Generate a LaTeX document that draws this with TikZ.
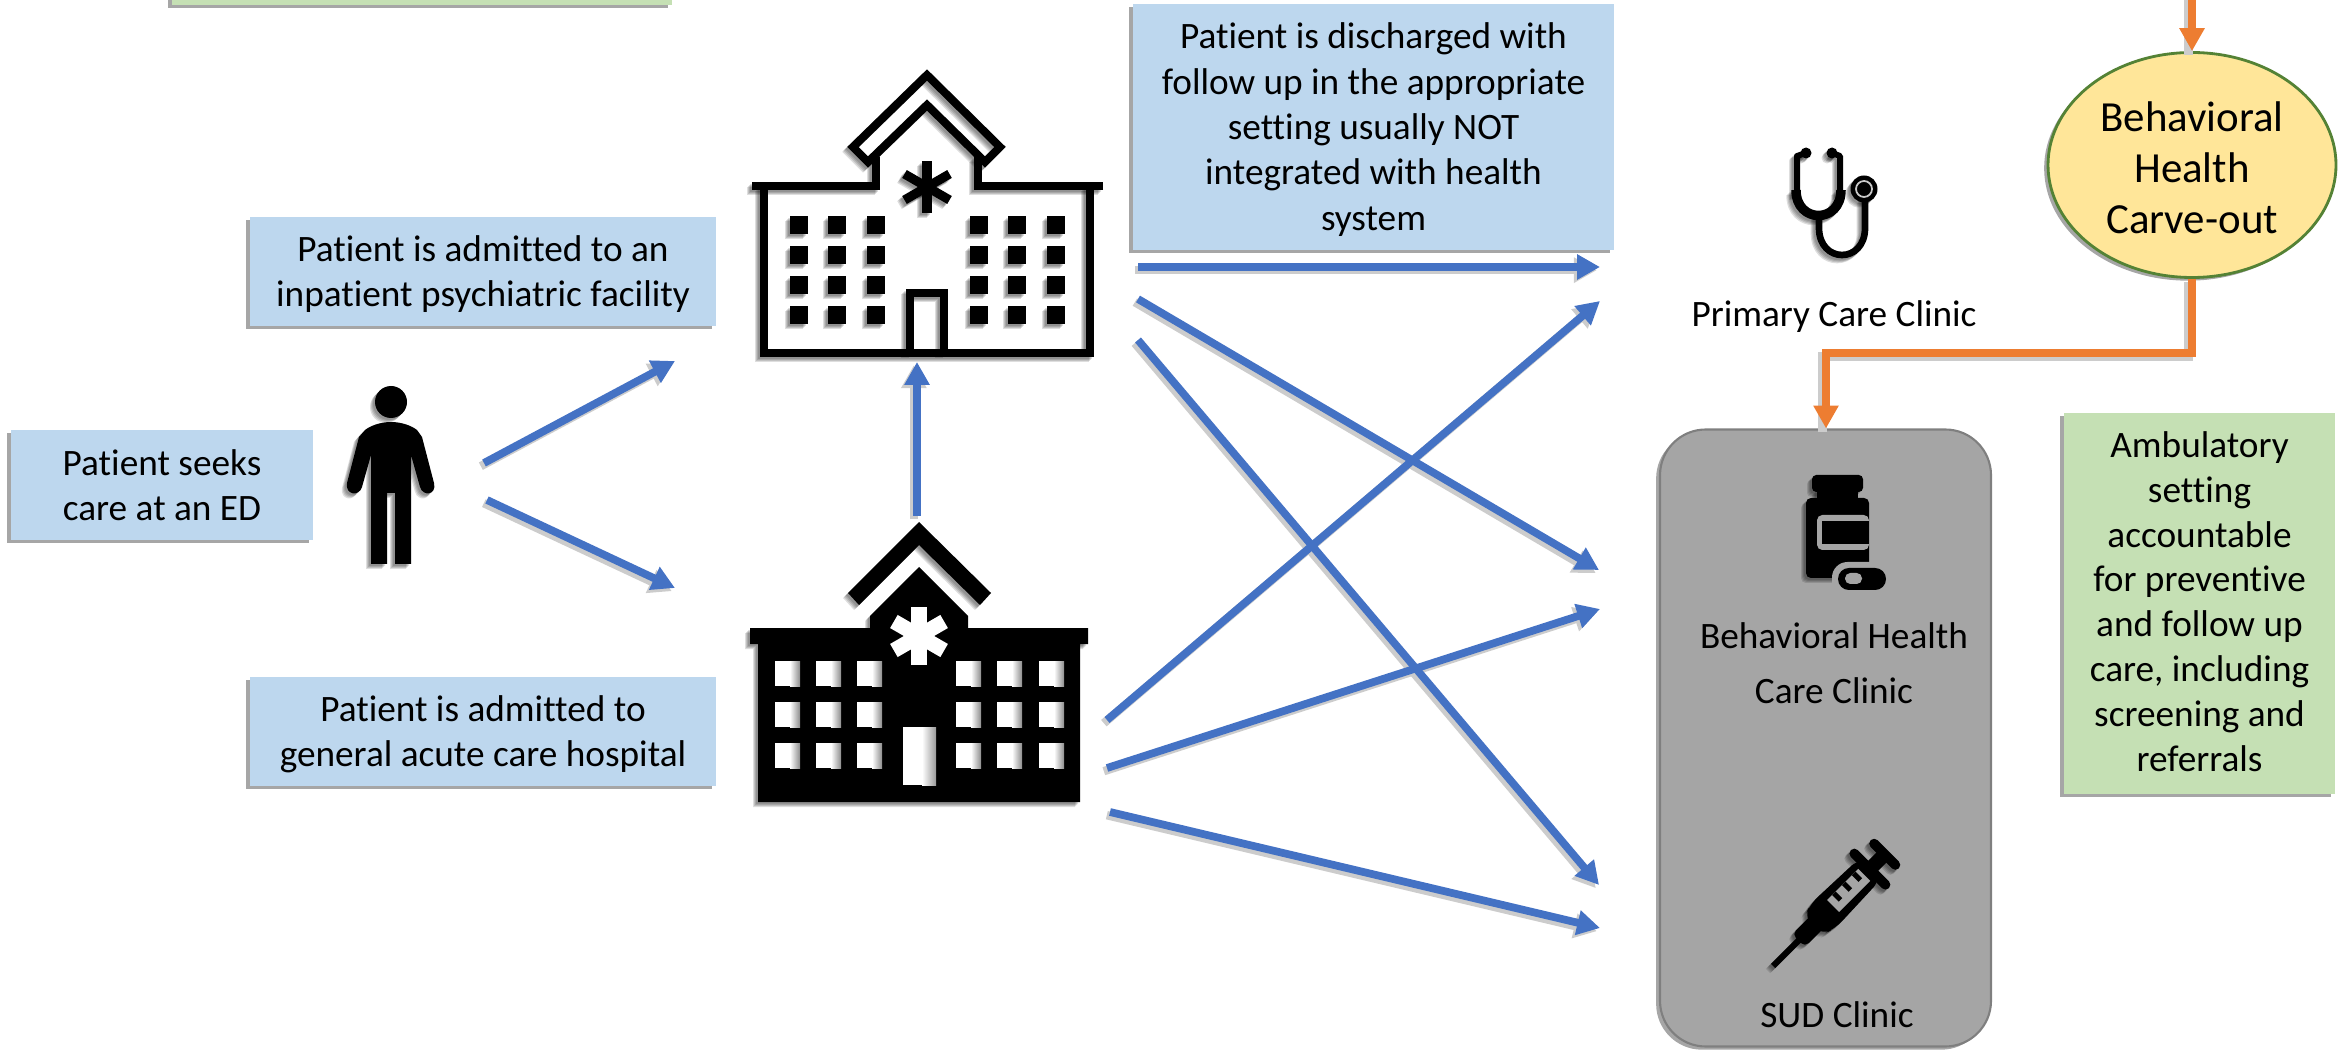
\documentclass[tikz,border=0pt]{standalone}
\usepackage{fontspec}
\setmainfont{Carlito}[Ligatures=CommonOff]
\usepackage{xcolor}
\usetikzlibrary{arrows.meta, positioning, shapes.geometric, shadows}
\definecolor{boxblue}{HTML}{BDD7EE}
\definecolor{boxgreen}{HTML}{C5E0B4}
\definecolor{carveyellow}{HTML}{FFE699}
\definecolor{carveline}{HTML}{548235}
\definecolor{linkorange}{HTML}{ED7D31}
\definecolor{linkblue}{HTML}{4472C4}
\definecolor{clinicgray}{HTML}{A5A5A5}
\definecolor{clinicline}{HTML}{7F7F7F}
\newcommand{\lowertext}{\rule{0pt}{8.8pt}}
\tikzset{%
	softshadow/.style={
		drop shadow={shadow xshift=-1.1pt, shadow yshift=-0.9pt, opacity=0.35, fill=black}
	},
	note/.style={
		inner sep=0pt,
		align=center,
		font=\fontsize{10.6}{12.9}\selectfont,
		softshadow
	},
	bluenote/.style={note, fill=boxblue},
	greennote/.style={note, fill=boxgreen, font=\fontsize{10.6}{12.75}\selectfont},
	clinictext/.style={
		inner sep=0pt,
		align=center,
		font=\fontsize{10.6}{15.6}\selectfont
	},
	bluelink/.style={
		draw=linkblue,
		line width=2.2pt,
		-{Triangle[length=6.5pt, width=6.8pt]}
	},
	bluelinkshade/.style={
		draw=black!20,
		line width=2.4pt,
		-{Triangle[length=6.5pt, width=6.8pt]},
		transform canvas={xshift=-0.9pt, yshift=-0.9pt}
	},
	orangelink/.style={
		draw=linkorange,
		line width=2.2pt
	},
	orangeshade/.style={
		draw=black!20,
		line width=2.4pt,
		transform canvas={xshift=-1pt, yshift=-1pt}
	},
	person/.pic={
		\fill (391,402) circle (16);
		\fill (391,422) .. controls (402,422) and (412,426) .. (417,430) -- (422,437) -- (434,483)
			.. controls (437,495) and (423,497) .. (420,487) -- (411,455) -- (411,564) -- (395,564)
			-- (395,493) -- (387,493) -- (387,564) -- (371,564) -- (371,455) -- (362,487)
			.. controls (359,497) and (345,495) .. (347,483) -- (359,437) -- (365,430)
			.. controls (370,426) and (380,422) .. (391,422) -- cycle;
	},
	openhospital/.pic={
		\draw[line width=2.3pt, miter limit=4] (927,75) -- (1000,147) -- (985,162) -- (927,105) -- (868,162) -- (853,147) -- cycle;
		\draw[line width=2.3pt] (752,186) -- (876,186) -- (876,157);
		\draw[line width=2.3pt] (1103,186) -- (978,186) -- (978,157);
		\draw[line width=2.3pt] (764,186) -- (764,353) -- (1090,353) -- (1090,186);
		\draw[line width=2.3pt] (910,353) -- (910,293) -- (944,293) -- (944,353);
		\foreach \wx in {799,837,876,979,1017,1056}
			\foreach \wy in {225,255,285,315}
				\fill (\wx-9,\wy-9) rectangle (\wx+9,\wy+9);
		\foreach \ang in {90,30,150}
			\draw[line width=2.6pt] (927,187) +(\ang:26) -- +(\ang+180:26);
	},
	solidhospital/.pic={
		\fill (919,522) -- (991,593) -- (980,605) -- (919,545) -- (859,605) -- (848,593) -- cycle;
		\fill (750,628) -- (870,628) -- (870,616) -- (919,567) -- (968,616) -- (968,628) -- (1088,628)
			-- (1088,644) -- (1080,644) -- (1080,802) -- (758,802) -- (758,644) -- (750,644) -- cycle;
	},
	stethoscope/.pic={
		\draw[line width=1.7pt, line join=round] (1806,153) -- (1797,156) -- (1797,195);
		\draw[line width=1.7pt, line join=round] (1832,153) -- (1840,156) -- (1840,195);
		\fill (1806,153) circle (5.5);
		\fill (1832,153) circle (5.5);
		\draw[line width=2.7pt] (1796,190) .. controls (1796,224) and (1841,224) .. (1841,190);
		\draw[line width=1.9pt] (1819,212) -- (1819,228) .. controls (1819,264) and (1865,264) .. (1865,228) -- (1865,198);
		\fill (1864,189) circle (13.5);
	},
	pillbottle/.pic={
		\fill[rounded corners=1.2pt] (1812,475) rectangle (1863,492);
		\fill (1817,490) rectangle (1858,500);
		\fill[rounded corners=1.4pt] (1806,498) rectangle (1869,578);
	},
	syringe/.pic={
		\begin{scope}[shift={(1773,966)}, rotate=45]
			\draw[line width=1.7pt] (0,0) -- (45,0);
			\fill[rounded corners=1.5pt] (36,-9) rectangle (66,9);
			\fill[rounded corners=3pt] (56,-12) -- (70,-17.5) -- (138,-15) -- (138,15) -- (70,17.5) -- (56,12) -- cycle;
			\fill (130,-7) rectangle (160,7);
			\draw[line width=2.8pt, line cap=round] (137,-22) -- (137,22);
			\draw[line width=2.8pt, line cap=round] (158,-15) -- (158,15);
		\end{scope}
	}
}
\begin{document}
\begin{tikzpicture}[x=0.01cm, y=-0.01cm]
	\path[use as bounding box, clip] (0,0) rectangle (2348,1055);
	
	% Clinic panel
	\node[draw=clinicline, fill=clinicgray, line width=0.6pt, rounded corners=13pt, minimum width=331*0.01cm, minimum height=617*0.01cm, softshadow] (panel) at (1825.5,738) {};
	
	% Text boxes
	\node[greennote, minimum width=500*0.01cm, minimum height=60*0.01cm] (topnote) at (422,-25) {};
	\node[bluenote, minimum width=302*0.01cm, minimum height=110*0.01cm] (seek) at (162,485) {Patient seeks\\care at an ED};
	\node[bluenote, minimum width=466*0.01cm, minimum height=109*0.01cm] (psych) at (483,271.5) {\lowertext Patient is admitted to an\\inpatient psychiatric facility};
	\node[bluenote, minimum width=466*0.01cm, minimum height=109*0.01cm] (acute) at (483,731.5) {\lowertext Patient is admitted to\\general acute care hospital};
	\node[bluenote, minimum width=481*0.01cm, minimum height=246*0.01cm] (discharge) at (1373.5,127) {\lowertext Patient is discharged with\\follow up in the appropriate\\setting usually NOT\\integrated with health\\system};
	\node[greennote, minimum width=271*0.01cm, minimum height=381*0.01cm] (ambulatory) at (2199.5,603.5) {Ambulatory\\setting\\accountable\\for preventive\\and follow up\\care, including\\screening and\\\rule[-1.2pt]{0pt}{1pt}referrals};
	
	% Carve-out
	\node[ellipse, draw=carveline, fill=carveyellow, line width=0.8pt, inner sep=0pt, minimum width=288*0.01cm, minimum height=225*0.01cm, align=center, font=\fontsize{12.2}{14.5}\selectfont, softshadow] (carve) at (2192,165) {\rule{0pt}{10.2pt}Behavioral\\Health\\Carve-out};
	
	% Clinic labels
	\node[inner sep=0pt, font=\fontsize{10.6}{12.9}\selectfont] (primary) at (1834,317) {Primary Care Clinic};
	\node[clinictext] (bhclinic) at (1834,663) {Behavioral Health\\Care Clinic};
	\node[clinictext] (sudclinic) at (1837,1015) {SUD Clinic};
	
	% Icons
	\foreach \s in {5,4,3,2} {
		\pic[opacity=0.13] at (-\s,\s) {person};
		\pic[opacity=0.13] at (-\s,\s) {openhospital};
		\pic[opacity=0.13] at (-\s,\s) {solidhospital};
		\pic[opacity=0.13] at (-\s,\s) {stethoscope};
		\pic[opacity=0.13] at (-\s,\s) {pillbottle};
		\pic[opacity=0.13] at (-\s,\s) {syringe};
	}
	\pic (patient) at (0,0) {person};
	\pic (psychhosp) at (0,0) {openhospital};
	\pic (acutehosp) at (0,0) {solidhospital};
	\pic (steth) at (0,0) {stethoscope};
	\pic (bottle) at (0,0) {pillbottle};
	\pic (needle) at (0,0) {syringe};
	
	% Windows, door and star of the solid hospital
	\foreach \wx in {775,816,857,956,997,1039}
		\foreach \wy in {661,702,743} {
			\fill[white] (\wx,\wy) rectangle (\wx+25,\wy+25);
			\shade[left color=white, right color=black!45] (\wx+15,\wy) rectangle (\wx+25,\wy+25);
		}
	\fill[white] (903,727) rectangle (936,785);
	\shade[left color=white, right color=black!40] (922,727) rectangle (936,785);
	\foreach \ang in {90,30,150}
		\draw[white, line width=4.3pt] (919,636) +(\ang:29) -- +(\ang+180:29);
	
	% Details of the small icons
	\draw[clinicgray!60!white, line width=0.5pt] (1864,189) circle (8);
	\fill[clinicgray, rounded corners=1.5pt] (1817,515) -- (1869,515) -- (1869,550) -- (1817,550) -- cycle;
	\fill (1822,521) rectangle (1869,544);
	\fill[clinicgray, rounded corners=4.4pt] (1832,562) rectangle (1892,596);
	\fill[rounded corners=3.1pt] (1838,568) rectangle (1886,590);
	\fill[clinicgray, rounded corners=1.5pt] (1862,573) -- (1845,573) -- (1845,584) -- (1862,584) -- cycle;
	\begin{scope}[shift={(1773,966)}, rotate=45]
		\fill[clinicgray] (85,-8.5) rectangle (129,8.5);
		\foreach \u in {92,106,120}
			\fill (\u,-8.5) rectangle (\u+5,1);
	\end{scope}
	
	% End points of the connectors
	\coordinate (personup) at (484,463);
	\coordinate (persondown) at (487,500);
	\coordinate (upperfront) at (675,361);
	\coordinate (lowerfront) at (675,588);
	\coordinate (acutetop) at (917,516);
	\coordinate (psychbase) at (917,362);
	\coordinate (psychA) at (1138,267);
	\coordinate (psychB) at (1138,299);
	\coordinate (psychC) at (1138,340);
	\coordinate (acuteA) at (1107,720);
	\coordinate (acuteB) at (1107,768);
	\coordinate (acuteC) at (1110,812);
	\coordinate (primaryA) at (1600,267);
	\coordinate (primaryB) at (1600,301);
	\coordinate (bhA) at (1599,570);
	\coordinate (bhB) at (1600,609);
	\coordinate (sudA) at (1599,885);
	\coordinate (sudB) at (1600,928);
	\coordinate (carvein) at (2192,-10);
	\coordinate (carvebend) at (2192,353);
	\coordinate (panelbend) at (1826,353);
	
	% Blue connectors
	\foreach \from/\to in {personup/upperfront, persondown/lowerfront, acutetop/psychbase, psychA/primaryA, psychB/bhA, psychC/sudA, acuteA/primaryB, acuteB/bhB, acuteC/sudB}
		\draw[bluelinkshade] (\from) -- (\to);
	\foreach \from/\to in {personup/upperfront, persondown/lowerfront, acutetop/psychbase, psychA/primaryA, psychB/bhA, psychC/sudA, acuteA/primaryB, acuteB/bhB, acuteC/sudB}
		\draw[bluelink] (\from) -- (\to);
	
	% Orange connectors
	\draw[orangeshade] (carvein) -- (carve.north);
	\draw[orangeshade] (carve.south) -- (carvebend) -- (panelbend) -- (panel.north -| panelbend);
	\draw[orangelink, -{Triangle[length=6.5pt, width=6.8pt]}] (carvein) -- (carve.north);
	\draw[orangelink, -{Triangle[length=6.5pt, width=6.8pt]}] (carve.south) -- (carvebend) -- (panelbend) -- (panel.north -| panelbend);
\end{tikzpicture}
\end{document}
